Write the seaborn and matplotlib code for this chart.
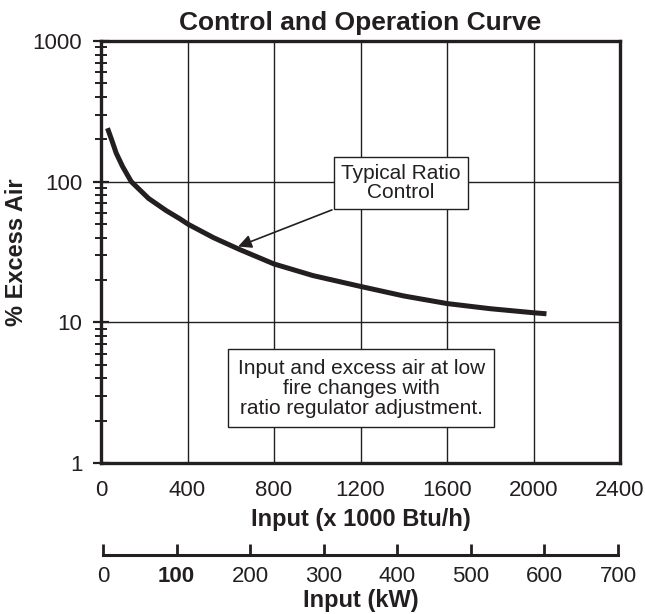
import numpy as np
import pandas as pd
import matplotlib
matplotlib.use("Agg")
import matplotlib.pyplot as plt
from matplotlib.ticker import LogLocator, NullFormatter, FixedLocator
import seaborn as sns

# ---- data ----
input_kbtu = [30, 50, 70, 100, 140, 220, 300, 365, 405, 520, 640, 800, 980,
              1200, 1400, 1600, 1800, 2000, 2060]
excess_air = [240, 197, 160, 128, 100, 76, 62.5, 54.4, 49.6, 40, 33, 26, 21.5,
              18, 15.4, 13.6, 12.5, 11.7, 11.5]
x_ticks_btu = [0, 400, 800, 1200, 1600, 2000, 2400]
x_ticks_kw = [0, 100, 200, 300, 400, 500, 600, 700]
y_ticks = [1, 10, 100, 1000]
title = "Control and Operation Curve"
xlabel_btu = "Input (x 1000 Btu/h)"
xlabel_kw = "Input (kW)"
ylabel = "% Excess Air"
note_ratio = "Typical Ratio\nControl"
note_box = "Input and excess air at low\nfire changes with\nratio regulator adjustment."

df = pd.DataFrame({"input": input_kbtu, "excess": excess_air})

sns.set_style("white")
plt.rcParams["font.family"] = ["Liberation Sans", "DejaVu Sans"]
INK = "#231f20"

W, H = 645, 614
fig = plt.figure(figsize=(W / 100, H / 100), dpi=100)
L, R, T, B = 101, 620, 41, 463
ax = fig.add_axes([L / W, 1 - B / H, (R - L) / W, (B - T) / H])

sns.lineplot(data=df, x="input", y="excess", ax=ax, color=INK, lw=3.6,
             legend=False, zorder=4, solid_capstyle="butt", solid_joinstyle="round")
ax.set_yscale("log")
ax.set_xlim(0, 2400)
ax.set_ylim(1, 1000)

ax.xaxis.set_major_locator(FixedLocator(x_ticks_btu))
ax.set_xticklabels([str(v) for v in x_ticks_btu])
ax.yaxis.set_major_locator(FixedLocator(y_ticks))
ax.set_yticklabels([str(v) for v in y_ticks])
ax.yaxis.set_minor_locator(LogLocator(base=10, subs=np.arange(2, 10)))
ax.yaxis.set_minor_formatter(NullFormatter())

ax.grid(True, which="major", axis="both", color=INK, lw=1.0, zorder=1)
ax.set_axisbelow(True)

for s in ax.spines.values():
    s.set_color(INK)
    s.set_linewidth(2.4)
    s.set_visible(True)

ax.tick_params(axis="x", which="both", length=0, pad=12, labelsize=16, colors=INK)
ax.tick_params(axis="y", which="major", direction="inout", length=11, width=1.6,
               pad=8, labelsize=16, colors=INK, left=True)
ax.tick_params(axis="y", which="minor", direction="inout", length=8, width=1.4,
               colors=INK, left=True)

ax.set_xlabel(xlabel_btu, fontsize=17, fontweight="bold", color=INK, labelpad=5)
ax.set_ylabel(ylabel, fontsize=17, fontweight="bold", color=INK, labelpad=3)
ax.set_title(title, fontsize=19, fontweight="bold", color=INK, pad=8)

# annotations
ax.annotate("", xy=(634, 34.6), xytext=(1068, 63),
            arrowprops=dict(arrowstyle="-|>", lw=1.2, color=INK, mutation_scale=20,
                            shrinkA=0, shrinkB=0), zorder=5)
ax.text(1388, 98, note_ratio, ha="center", va="center", fontsize=15, color=INK,
        linespacing=1.0, zorder=6,
        bbox=dict(boxstyle="square,pad=0.35", fc="white", ec=INK, lw=1.0))
ax.text(1203, 3.4, note_box, ha="center", va="center", fontsize=15, color=INK,
        linespacing=1.08, zorder=6, multialignment="center",
        bbox=dict(boxstyle="square,pad=0.45", fc="white", ec=INK, lw=1.0))

# secondary kW axis
L2, R2, Y2 = 103, 618, 555
ax2 = fig.add_axes([L2 / W, 1 - Y2 / H, (R2 - L2) / W, 0.0001])
ax2.set_facecolor("none")
ax2.set_xlim(0, 700)
ax2.set_yticks([])
for k in ["left", "right", "top"]:
    ax2.spines[k].set_visible(False)
ax2.spines["bottom"].set_color(INK)
ax2.spines["bottom"].set_linewidth(2.2)
ax2.xaxis.set_major_locator(FixedLocator(x_ticks_kw))
ax2.set_xticklabels([str(v) for v in x_ticks_kw])
ax2.tick_params(axis="x", direction="in", length=8, width=2.0, pad=8,
                labelsize=16, colors=INK, bottom=True)
for lab in ax2.get_xticklabels():
    if lab.get_text() == "100":
        lab.set_fontweight("bold")
ax2.set_xlabel(xlabel_kw, fontsize=17, fontweight="bold", color=INK, labelpad=1)

fig.savefig("out.png", dpi=100)
